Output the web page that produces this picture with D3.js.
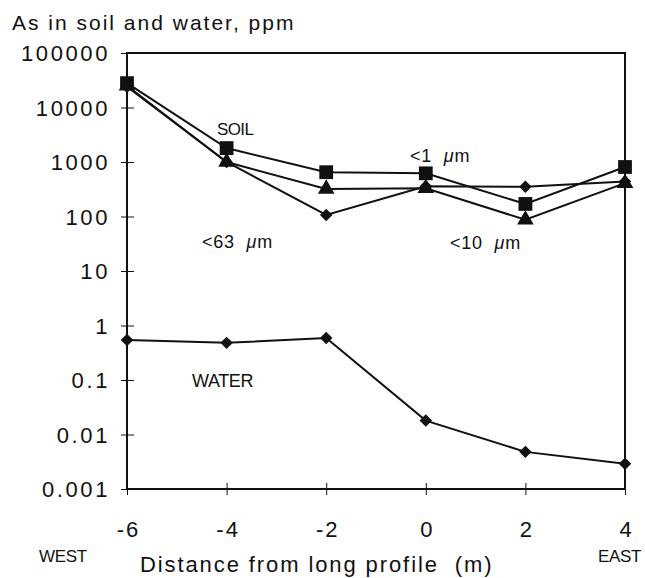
<!doctype html>
<html>
<head>
<meta charset="utf-8">
<title>As in soil and water</title>
<script src="https://cdn.jsdelivr.net/npm/d3@7"></script>
<style>
  * { margin: 0; padding: 0; }
  body { background: #fff; font-family: "Liberation Sans", Arial, Helvetica, sans-serif; }
  svg text { fill: #111; }
</style>
</head>
<body>
<div id="chart"></div>
<script>
// distance from long profile (m)
var distances = [-6, -4, -2, 0, 2, 4];
// As in soil fractions, ppm
var soilLt1 = [28000, 1800, 650, 620, 170, 810];   // <1 um, squares
var soilLt10 = [25000, 1000, 320, 330, 87, 410];   // <10 um, triangles
var soilLt63 = [24000, 1000, 107, 360, 350, 440];  // <63 um, diamonds
// As in water, ppm
var water = [0.54, 0.48, 0.59, 0.018, 0.0048, 0.0029];

var yTicks = [100000, 10000, 1000, 100, 10, 1, 0.1, 0.01, 0.001];
var yTickLabels = ["100000", "10000", "1000", "100", "10", "1", "0.1", "0.01", "0.001"];
var xTicks = [-6, -4, -2, 0, 2, 4];

var W = 645, H = 578;
var svg = d3.select("#chart").append("svg").attr("width", W).attr("height", H);

var x = d3.scaleLinear().domain([-6, 4]).range([127, 625]);
var y = d3.scaleLog().domain([0.001, 100000]).range([489, 53]);

// frame
svg.append("rect")
  .attr("x", x(-6)).attr("y", y(100000))
  .attr("width", x(4) - x(-6)).attr("height", y(0.001) - y(100000))
  .attr("fill", "none").attr("stroke", "#111").attr("stroke-width", 2);

// y axis
var yAxis = svg.append("g")
  .attr("transform", "translate(" + x(-6) + ",0)")
  .call(d3.axisLeft(y).tickValues(yTicks)
    .tickFormat(function (d, i) { return yTickLabels[i]; })
    .tickSize(6));
yAxis.select(".domain").remove();
yAxis.selectAll(".tick line").attr("x1", -6).attr("x2", 7).attr("stroke", "#111").attr("stroke-width", 1);
yAxis.selectAll(".tick text")
  .attr("x", -17).attr("dy", "0.36em")
  .style("font-size", "22px").style("letter-spacing", "2.6px")
  .style("font-family", "'Liberation Sans', Arial, sans-serif").attr("fill", "#111");

// x axis
var xAxis = svg.append("g")
  .attr("transform", "translate(0," + y(0.001) + ")")
  .call(d3.axisBottom(x).tickValues(xTicks)
    .tickFormat(function (d) { return String(d); }).tickSize(6));
xAxis.select(".domain").remove();
xAxis.selectAll(".tick line").attr("y1", -6).attr("y2", 6).attr("stroke", "#111").attr("stroke-width", 1);
xAxis.selectAll(".tick text")
  .attr("y", 48).attr("dy", 0).attr("dx", "1px")
  .style("font-size", "22px").style("letter-spacing", "2px")
  .style("font-family", "'Liberation Sans', Arial, sans-serif").attr("fill", "#111");

// lines
var line = d3.line()
  .x(function (d) { return x(d[0]); })
  .y(function (d) { return y(d[1]); });

function drawSeries(vals, shape, size, rot) {
  var pts = distances.map(function (d, i) { return [d, vals[i]]; });
  svg.append("path").datum(pts)
    .attr("d", line).attr("fill", "none")
    .attr("stroke", "#111").attr("stroke-width", 2);
  svg.append("g").selectAll("path").data(pts).enter().append("path")
    .attr("transform", function (d) {
      return "translate(" + x(d[0]) + "," + y(d[1]) + ")" + (rot ? " rotate(" + rot + ")" : "");
    })
    .attr("d", d3.symbol().type(shape).size(size))
    .attr("fill", "#111");
}

drawSeries(soilLt63, d3.symbolSquare, 78, 45);
drawSeries(soilLt10, d3.symbolTriangle, 120);
drawSeries(soilLt1, d3.symbolSquare, 190);
drawSeries(water, d3.symbolSquare, 78, 45);

// texts
function label(txt, tx, ty, size, ls) {
  return svg.append("text").attr("x", tx).attr("y", ty)
    .style("font-size", size + "px").style("letter-spacing", (ls || 0) + "px")
    .style("white-space", "pre")
    .text(txt);
}
label("As in soil and water, ppm", 12, 30, 21, 2);
label("SOIL", 217, 135, 17, -0.6);
label("WATER", 192, 387, 18, -0.4);
label("WEST", 39, 562, 17, -0.3);
label("EAST", 598, 562, 17, -0.3);
label("Distance from long profile  (m)", 140, 572, 22, 1.9);

function micron(prefix, tx, ty) {
  var t = svg.append("text").attr("x", tx).attr("y", ty)
    .style("font-size", "18px").style("letter-spacing", "0.8px").style("white-space", "pre");
  t.append("tspan").text(prefix + "  ");
  t.append("tspan").style("font-style", "italic").text("\u03bc");
  t.append("tspan").text("m");
}
micron("<1", 410, 162);
micron("<63", 202, 248);
micron("<10", 450, 249);
</script>
</body>
</html>
